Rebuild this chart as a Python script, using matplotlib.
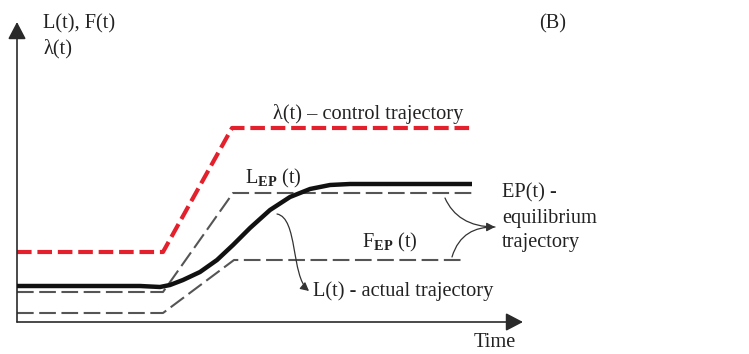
import matplotlib
matplotlib.use("Agg")
import matplotlib.pyplot as plt
from matplotlib.patches import FancyArrowPatch
from matplotlib.path import Path

plt.rcParams['font.family'] = ['Liberation Serif', 'DejaVu Serif']
plt.rcParams['mathtext.fontset'] = 'custom'
plt.rcParams['mathtext.rm'] = 'Liberation Serif'
plt.rcParams['mathtext.it'] = 'Liberation Serif:italic'
plt.rcParams['mathtext.bf'] = 'Liberation Serif:bold'
plt.rcParams['lines.scale_dashes'] = False

# control trajectory lambda(t)
lam_t = [0, 146, 215, 455]
lam_v = [70, 70, 194, 194]

# equilibrium trajectory: upper (L_EP) and lower (F_EP) bounds
lep_t = [0, 146, 216, 455]
lep_v = [30, 30, 129, 129]
fep_t = [0, 146, 217, 448]
fep_v = [9, 9, 62, 62]

# actual trajectory L(t)
l_t = [0, 123, 143, 153, 166, 183, 200, 216, 233, 253, 273, 293, 313, 333, 455]
l_v = [36, 36, 35, 37, 42, 50, 62, 77, 94, 112, 125, 133, 137, 138, 138]

FS = 14.7
fig = plt.figure(figsize=(7.49, 3.54), dpi=100)
ax = fig.add_axes([0, 0, 1, 1])
ax.set_xlim(-17, 732)
ax.set_ylim(-32, 322)
ax.axis('off')

# axes with arrow heads
for tip in [(0, 300), (506, 0)]:
    ax.add_patch(FancyArrowPatch((0, 0), tip,
                                 arrowstyle='-|>,head_length=10.5,head_width=5.5',
                                 mutation_scale=1, shrinkA=0, shrinkB=0,
                                 lw=1.2, color='#2a2a2a', zorder=3))

gray = '#555555'
ax.plot(fep_t, fep_v, color=gray, lw=1.5, dashes=(12, 4), zorder=2)
ax.plot(lep_t, lep_v, color=gray, lw=1.5, dashes=(12, 4), zorder=2)
ax.plot(lam_t, lam_v, color='#e3202b', lw=3.0, dashes=(10.5, 4.2), zorder=2)
ax.plot(l_t, l_v, color='#111111', lw=3.2, solid_joinstyle='round',
        solid_capstyle='butt', zorder=4)

# curved pointer arrows
def curve_arrow(verts, head=True):
    codes = [Path.MOVETO, Path.CURVE4, Path.CURVE4, Path.CURVE4]
    style = '-|>,head_length=5,head_width=2.6' if head else '-'
    ax.add_patch(FancyArrowPatch(path=Path(verts, codes), arrowstyle=style,
                                 mutation_scale=1, lw=0.9, color='#333333',
                                 zorder=5))

curve_arrow([(260, 108), (281, 104), (274, 46), (292, 31)])
curve_arrow([(428, 124), (436, 106), (452, 95), (478, 95)], head=False)
curve_arrow([(435, 65), (442, 88), (458, 95), (478, 95)])

txt = dict(fontsize=FS, color='#222222', va='baseline')
ax.text(26, 294, 'L(t), F(t)', **txt)
ax.text(26, 269, 'λ(t)', **txt)
ax.text(536, 294, '(B)', ha='center', **txt)
ax.text(256, 203, 'λ(t) – control trajectory', **txt)
ax.text(228, 139, r'L$_{\mathbf{EP}}$ (t)', **txt)
ax.text(345, 75, r'F$_{\mathbf{EP}}$ (t)', **txt)
ax.text(296, 26, 'L(t) - actual trajectory', **txt)
ax.text(485, 125, 'EP(t) -', **txt)
ax.text(485, 99, 'equilibrium', **txt)
ax.text(485, 75, 'trajectory', **txt)
ax.text(457, -25, 'Time', **txt)

fig.savefig('out.png', dpi=100)
